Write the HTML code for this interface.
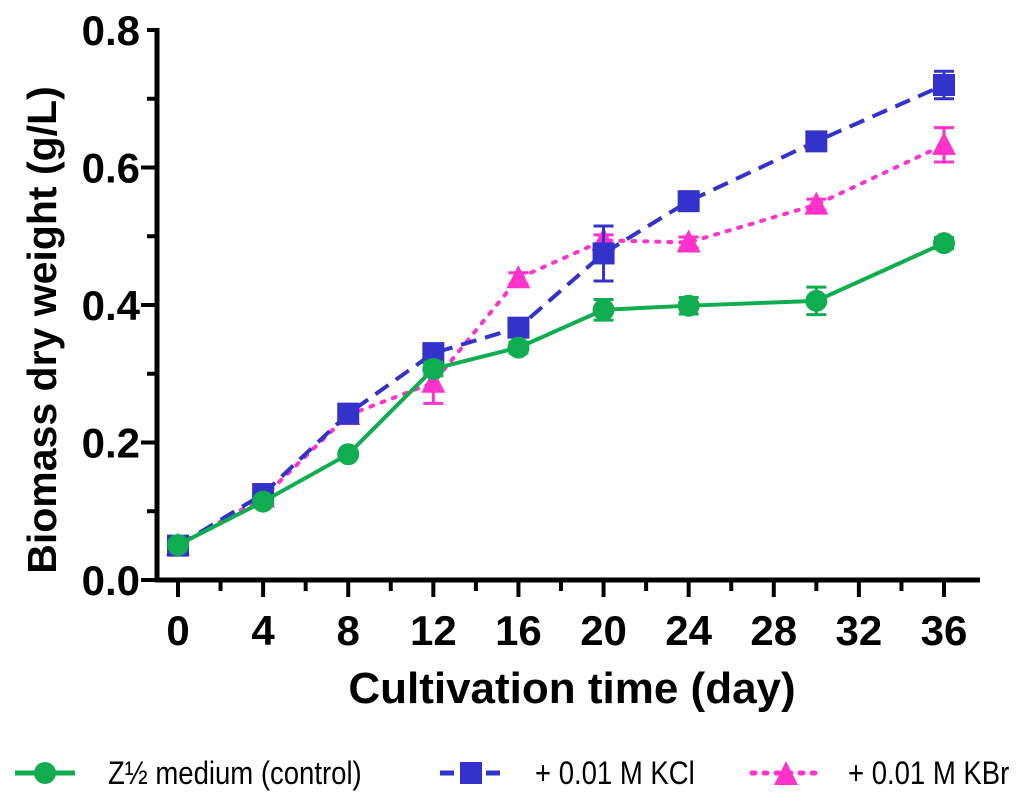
<!DOCTYPE html>
<html><head><meta charset="utf-8"><style>
body{margin:0;background:#fff;}
svg text{font-family:"Liberation Sans",Arial,sans-serif;}
</style></head><body>
<svg id="chart" width="1024" height="805">
<g id="axes"></g><g id="series"></g>
<text x="0" y="0" transform="translate(56,330) rotate(-90)" text-anchor="middle" font-size="41" font-weight="bold">Biomass dry weight (g/L)</text>
<text x="572" y="703" text-anchor="middle" font-size="44" font-weight="bold">Cultivation time (day)</text>
<g>
<g>
<line x1="15" y1="773" x2="75" y2="773" stroke="#0fad4f" stroke-width="5"/><circle cx="45" cy="773" r="11" fill="#0fad4f"/>
<text x="108" y="784" font-size="32" transform="translate(108,0) scale(0.86,1) translate(-108,0)">Z½ medium (control)</text></g>
<g>
<line x1="440" y1="773" x2="505" y2="773" stroke="#3333cc" stroke-width="5" stroke-dasharray="14,9"/><rect x="460" y="762" width="22" height="22" fill="#3333cc"/>
<text x="535" y="784" font-size="32" transform="translate(535,0) scale(0.86,1) translate(-535,0)">+ 0.01 M KCl</text></g>
<g>
<line x1="752" y1="773" x2="820" y2="773" stroke="#ff33cc" stroke-width="5" stroke-dasharray="3,9" stroke-linecap="round"/><polygon points="786,761 774,785 798,785" fill="#ff33cc"/>
<text x="848" y="784" font-size="32" transform="translate(848,0) scale(0.86,1) translate(-848,0)">+ 0.01 M KBr</text></g>
</g>
</svg>
<script>
const days=[0,4,8,12,16,20,24,30,36];
const control=[0.051,0.114,0.183,0.307,0.338,0.393,0.399,0.406,0.490];
const controlErr=[0.005,0.005,0.005,0.01,0.008,0.015,0.012,0.02,0.008];
const kcl=[0.050,0.125,0.242,0.330,0.367,0.475,0.551,0.638,0.720];
const kclErr=[0.005,0.005,0.005,0.008,0.012,0.04,0.008,0.008,0.02];
const kbr=[0.050,0.120,0.240,0.287,0.439,0.494,0.491,0.546,0.633];
const kbrErr=[0.005,0.005,0.005,0.03,0.008,0.008,0.008,0.008,0.025];
const xTicks=[0,4,8,12,16,20,24,28,32,36];
const yTicks=[0,0.2,0.4,0.6,0.8];
const yTickLabels=["0.0","0.2","0.4","0.6","0.8"];
const NS="http://www.w3.org/2000/svg";
const X0=178,X1=944,Y0=580,Y1=30;
const sx=d=>X0+(d/36)*(X1-X0);
const sy=v=>Y0-(v/0.8)*(Y0-Y1);
function mk(t,a,p){const e=document.createElementNS(NS,t);for(const k in a)e.setAttribute(k,a[k]);p.appendChild(e);return e;}
const ax=document.getElementById('axes');
const ya=mk('line',{x1:157,y1:Y1-2,x2:157,y2:Y0+2,stroke:'#000','stroke-width':5},ax);


const xa=mk('line',{x1:155,y1:Y0,x2:980,y2:Y0,stroke:'#000','stroke-width':5},ax);


for(let v=0;v<=0.8001;v+=0.1){const major=Math.abs(v*10%2)<0.01;mk('line',{x1:major?141:147,y1:sy(v),x2:157,y2:sy(v),stroke:'#000','stroke-width':4},ax);}
yTicks.forEach((v,i)=>{const t=mk('text',{x:140,y:sy(v)+15,'text-anchor':'end','font-size':42,'font-weight':'bold'},ax);t.textContent=yTickLabels[i];

});
for(let d=0;d<=36;d+=2){const major=d%4===0;mk('line',{x1:sx(d),y1:Y0,x2:sx(d),y2:major?597:591,stroke:'#000','stroke-width':4},ax);}
xTicks.forEach(d=>{const t=mk('text',{x:sx(d),y:645,'text-anchor':'middle','font-size':42,'font-weight':'bold'},ax);t.textContent=d;

});
const sg=document.getElementById('series');
function series(vals,errs,color,dash,shape,name){
  const g=mk('g',{},sg);
  
  
  const pts=days.map((d,i)=>sx(d)+','+sy(vals[i])).join(' ');
  const a={points:pts,fill:'none',stroke:color,'stroke-width':4};
  if(dash){a['stroke-dasharray']=dash;}
  if(shape==='tri')a['stroke-linecap']='round';
  mk('polyline',a,g);
  days.forEach((d,i)=>{const x=sx(d),y=sy(vals[i]),e=errs[i];
    const yt=sy(vals[i]+e),yb=sy(vals[i]-e);
    mk('line',{x1:x,y1:yt,x2:x,y2:yb,stroke:color,'stroke-width':3},g);
    mk('line',{x1:x-10,y1:yt,x2:x+10,y2:yt,stroke:color,'stroke-width':3},g);
    mk('line',{x1:x-10,y1:yb,x2:x+10,y2:yb,stroke:color,'stroke-width':3},g);
    let m;
    if(shape==='circle')m=mk('circle',{cx:x,cy:y,r:11,fill:color},g);
    else if(shape==='square')m=mk('rect',{x:x-11,y:y-11,width:22,height:22,fill:color},g);
    else m=mk('polygon',{points:`${x},${y-13} ${x-12},${y+10} ${x+12},${y+10}`,fill:color},g);
    
    
  });
}
series(kbr,kbrErr,'#ff33cc','3,9','tri','series-kbr');
series(kcl,kclErr,'#3333cc','16,9','square','series-kcl');
series(control,controlErr,'#0fad4f',null,'circle','series-control');
</script>
</body></html>
